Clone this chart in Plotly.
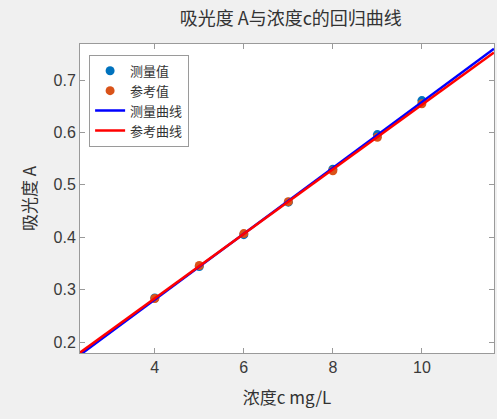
import numpy as np
import plotly.graph_objects as go

# concentration c (mg/L)
conc = [4, 5, 6, 7, 8, 9, 10]
# measured absorbance
a_measured = [0.284, 0.344, 0.405, 0.467, 0.530, 0.596, 0.661]
# reference absorbance
a_reference = [0.283, 0.346, 0.407, 0.468, 0.527, 0.591, 0.655]

x_ticks = [4, 6, 8, 10]
y_ticks = [0.2, 0.3, 0.4, 0.5, 0.6, 0.7]
x_lim = [2.32, 11.62]
y_lim = [0.179, 0.769]

cjk = "Noto Sans CJK SC"
latin = "Liberation Sans, Arial, sans-serif"

# least-squares lines through each data set
k_m, b_m = np.polyfit(conc, a_measured, 1)
k_r, b_r = np.polyfit(conc, a_reference, 1)
xl = np.array(x_lim)

fig = go.Figure()
fig.add_trace(go.Scatter(
    x=conc, y=a_measured, mode="markers", name="测量值",
    marker=dict(color="#0072BD", size=9, symbol="circle"),
))
fig.add_trace(go.Scatter(
    x=conc, y=a_reference, mode="markers", name="参考值",
    marker=dict(color="#D95319", size=9, symbol="circle"),
))
fig.add_trace(go.Scatter(
    x=xl, y=k_m * xl + b_m, mode="lines", name="测量曲线",
    line=dict(color="#0000FF", width=2.5),
))
fig.add_trace(go.Scatter(
    x=xl, y=k_r * xl + b_r, mode="lines", name="参考曲线",
    line=dict(color="#FF0000", width=2.5),
))

axis_common = dict(
    showline=True, mirror="ticks", linecolor="#9a9a9a", linewidth=1,
    ticks="inside", ticklen=5, tickcolor="#9a9a9a",
    showgrid=False, zeroline=False,
    tickfont=dict(family=latin, size=16, color="#3a3a3a"),
)

fig.update_layout(
    width=497, height=419,
    paper_bgcolor="#f0f0f0", plot_bgcolor="#ffffff",
    margin=dict(l=80, r=3, t=44, b=66),
    title=dict(
        text="吸光度 A与浓度c的回归曲线", x=0.585, xanchor="center",
        y=0.955, yanchor="middle",
        font=dict(family=cjk, size=18, color="#333333"),
    ),
    xaxis=dict(range=x_lim, tickvals=x_ticks,
               title=dict(text="浓度c mg/L", standoff=16,
                          font=dict(family=cjk, size=17, color="#333333")),
               **axis_common),
    yaxis=dict(range=y_lim, tickvals=y_ticks, tickformat=".1f",
               title=dict(text="吸光度 A", standoff=12,
                          font=dict(family=cjk, size=17, color="#333333")),
               **axis_common),
    legend=dict(
        x=0.022, y=0.965, xanchor="left", yanchor="top",
        bgcolor="#ffffff", bordercolor="#9a9a9a", borderwidth=1,
        font=dict(family=cjk, size=13, color="#333333"),
        tracegroupgap=0, itemwidth=30,
    ),
    showlegend=True,
)

fig.write_html("out.html")
